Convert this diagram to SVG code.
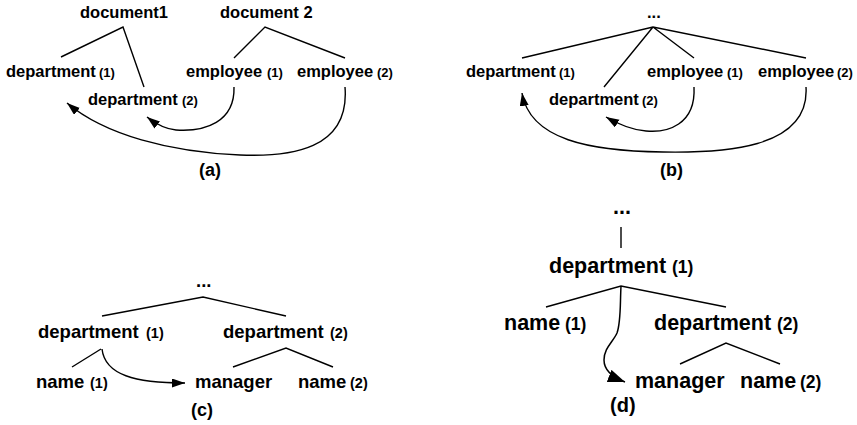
<svg xmlns="http://www.w3.org/2000/svg" width="857" height="425" viewBox="0 0 857 425">
  <style>
    text { font-family: "Liberation Sans", Arial, sans-serif; font-weight: bold; fill: #000; }
    .s1 { font-size: 16.5px; }
    .s1 .n { font-size: 13px; }
    .s2 { font-size: 18.5px; }
    .s2 .n { font-size: 14.5px; }
    .s3 { font-size: 21.5px; }
    .s3 .n { font-size: 17.5px; }
    .cap { font-size: 18px; }
    .cap2 { font-size: 20px; }
    .edge { fill: none; stroke: #000; stroke-width: 1.4; stroke-linejoin: miter; }
    .link { fill: none; stroke: #000; stroke-width: 1.4; marker-end: url(#head); }
    .link-big { fill: none; stroke: #000; stroke-width: 1.5; marker-end: url(#headBig); }
  </style>
  <defs>
    <marker id="head" markerUnits="userSpaceOnUse" markerWidth="14" markerHeight="10" refX="13" refY="4.5" orient="auto">
      <path d="M0,0 L13,4.5 L0,9 z" fill="#000"/>
    </marker>
    <marker id="headBig" markerUnits="userSpaceOnUse" markerWidth="18" markerHeight="14" refX="17" refY="6.5" orient="auto">
      <path d="M0,0 L17,6.5 L0,13 z" fill="#000"/>
    </marker>
  </defs>
  <rect width="857" height="425" fill="#fff"/>

  <!-- (a) two documents -->
  <g id="panel-a">
    <g id="a-document1"><text class="s1" x="80" y="18">document1</text></g>
    <g id="a-document2"><text class="s1" x="220" y="18">document 2</text></g>
    <g id="a-department1"><text class="s1" x="6" y="77">department<tspan class="n" x="99">(1)</tspan></text></g>
    <g id="a-department2"><text class="s1" x="88" y="105">department<tspan class="n" x="182">(2)</tspan></text></g>
    <g id="a-employee1"><text class="s1" x="186" y="77">employee<tspan class="n" x="267">(1)</tspan></text></g>
    <g id="a-employee2"><text class="s1" x="297" y="77">employee<tspan class="n" x="377">(2)</tspan></text></g>
    <text class="cap" x="199" y="176">(a)</text>
  </g>

  <!-- (b) single document -->
  <g id="panel-b">
    <g id="b-root"><text class="s1" x="647" y="18">...</text></g>
    <g id="b-department1"><text class="s1" x="466" y="77">department<tspan class="n" x="559">(1)</tspan></text></g>
    <g id="b-department2"><text class="s1" x="549" y="105">department<tspan class="n" x="642">(2)</tspan></text></g>
    <g id="b-employee1"><text class="s1" x="647" y="77">employee<tspan class="n" x="727">(1)</tspan></text></g>
    <g id="b-employee2"><text class="s1" x="758" y="77">employee<tspan class="n" x="837">(2)</tspan></text></g>
    <text class="cap" x="660" y="176">(b)</text>
  </g>

  <!-- (c) sibling departments -->
  <g id="panel-c">
    <g id="c-root"><text class="s2" x="196" y="287">...</text></g>
    <g id="c-department1"><text class="s2" x="38" y="338">department<tspan class="n" x="146">(1)</tspan></text></g>
    <g id="c-department2"><text class="s2" x="223" y="338">department<tspan class="n" x="330">(2)</tspan></text></g>
    <g id="c-name1"><text class="s2" x="36" y="388">name<tspan class="n" x="90">(1)</tspan></text></g>
    <g id="c-manager"><text class="s2" x="195" y="388">manager</text></g>
    <g id="c-name2"><text class="s2" x="298" y="388">name<tspan class="n" x="350">(2)</tspan></text></g>
    <text class="cap" x="191" y="416">(c)</text>
  </g>

  <!-- (d) nested departments -->
  <g id="panel-d">
    <g id="d-root"><text class="s3" x="613" y="214">...</text></g>
    <g id="d-department1"><text class="s3" x="549" y="273">department<tspan class="n" x="672">(1)</tspan></text></g>
    <g id="d-name1"><text class="s3" x="504" y="330">name<tspan class="n" x="565">(1)</tspan></text></g>
    <g id="d-department2"><text class="s3" x="654" y="330">department<tspan class="n" x="777">(2)</tspan></text></g>
    <g id="d-manager"><text class="s3" x="635" y="388">manager</text></g>
    <g id="d-name2"><text class="s3" x="740" y="388">name<tspan class="n" x="800">(2)</tspan></text></g>
    <text class="cap2" x="610" y="412">(d)</text>
  </g>

  <!-- connectors -->
  <g id="connectors">
    <!-- tree edges -->
    <path class="edge" d="M61,57 L123,27 L144,87"/>
    <path class="edge" d="M234,58 L265,27 L345,58"/>
    <path class="edge" d="M522,58 L653,27 L806,58 M653,27 L604,87 M653,27 L694,58"/>
    <path class="edge" d="M102,316 L203,297 L286,316"/>
    <path class="edge" d="M72,367 L101,349"/>
    <path class="edge" d="M233,367 L286,348 L333,367"/>
    <path class="edge" d="M621,227 L621,248"/>
    <path class="edge" d="M546,307 L621,286 L726,307"/>
    <path class="edge" d="M680,364 L726,343 L780,364"/>
    <!-- references -->
    <path class="link" d="M234,87 C235,122 205,132 176,130 C165,129 156,124 147,117"/>
    <path class="link" d="M345,87 C350,150 290,157 240,155 C170,152 105,135 67,103"/>
    <path class="link" d="M694,87 C696,125 667,133 646,131 C631,130 618,124 606,117"/>
    <path class="link" d="M806,87 C810,150 720,153 663,152 C590,151 530,140 522,93"/>
    <path class="link" d="M102,349 C105,375 135,383 185,383"/>
    <path class="link-big" d="M621,286 C620,305 621,322 617,333 C613,342 604,348 604,360 C604,370 612,377 625,382"/>
  </g>
</svg>
